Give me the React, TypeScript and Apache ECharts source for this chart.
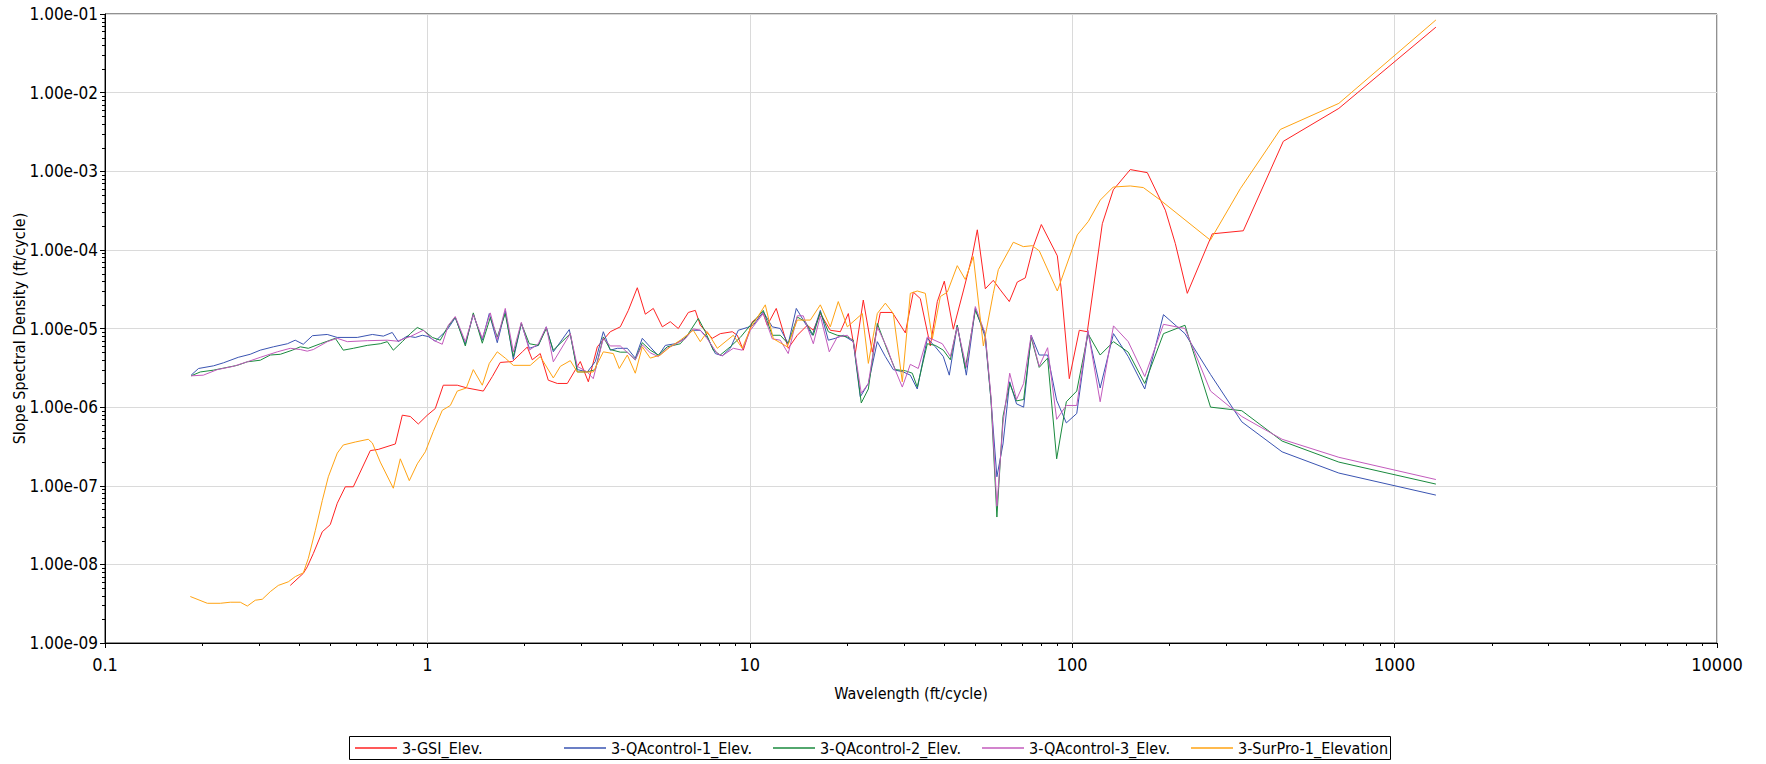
import React, { useEffect, useRef } from "react";
import * as echarts from "echarts";

// ---------- data (wavelength ft/cycle, slope spectral density) ----------
const seriesNames = [
  "3-GSI_Elev.",
  "3-QAcontrol-1_Elev.",
  "3-QAcontrol-2_Elev.",
  "3-QAcontrol-3_Elev.",
  "3-SurPro-1_Elevation",
];

const gsiElev: number[][] = [
  [0.3756, 5.4e-9], [0.4123, 7.7e-9], [0.424, 9.3e-9], [0.4426, 1.37e-8], [0.4721, 2.6e-8], [0.4996, 3.2e-8],
  [0.5254, 6.0e-8], [0.5564, 9.7e-8], [0.5891, 9.7e-8], [0.6651, 2.8e-7], [0.7041, 2.9e-7], [0.7954, 3.4e-7],
  [0.8358, 7.9e-7], [0.8851, 7.6e-7], [0.9371, 6.1e-7], [0.9993, 7.9e-7], [1.058, 9.6e-7], [1.12, 1.9e-6],
  [1.238, 1.9e-6], [1.33, 1.75e-6], [1.491, 1.6e-6], [1.59, 2.45e-6], [1.683, 3.7e-6], [1.834, 3.8e-6],
  [1.97, 5.05e-6], [2.041, 5.8e-6], [2.115, 4.0e-6], [2.239, 4.8e-6], [2.371, 2.2e-6], [2.529, 2.0e-6],
  [2.716, 2.0e-6], [2.98, 3.8e-6], [3.156, 2.1e-6], [3.365, 5.85e-6], [3.692, 9.1e-6], [3.966, 1.05e-5],
  [4.2, 1.7e-5], [4.478, 3.3e-5], [4.742, 1.52e-5], [5.02, 1.8e-5], [5.354, 1.05e-5], [5.667, 1.22e-5],
  [6.001, 1.0e-5], [6.447, 1.6e-5], [6.776, 1.7e-5], [7.022, 1.1e-5], [7.648, 7.5e-6], [8.099, 8.6e-6],
  [8.826, 9.1e-6], [9.147, 8.2e-6], [9.546, 5.3e-6], [10.18, 1.22e-5], [11.01, 1.55e-5], [11.33, 1.1e-5],
  [12.08, 1.8e-5], [13.16, 5.6e-6], [14.04, 8.2e-6], [15.08, 1.1e-5], [15.74, 9.5e-6], [16.55, 1.55e-5],
  [17.77, 9.5e-6], [19.09, 9.1e-6], [20.21, 1.55e-5], [21.24, 4.8e-6], [22.49, 2.3e-5], [23.99, 5.0e-6],
  [25.4, 1.6e-5], [27.67, 1.6e-5], [30.37, 8.8e-6], [32.15, 2.9e-5], [33.8, 2.4e-5], [36.3, 6.0e-6],
  [38.16, 2.2e-5], [40.12, 4.0e-5], [42.78, 9.8e-6], [45.95, 3.0e-5], [48.98, 8.4e-5], [50.78, 1.8e-4],
  [53.77, 3.2e-5], [56.92, 4.1e-5], [59.84, 3.1e-5], [63.82, 2.2e-5], [67.56, 3.9e-5], [71.53, 4.4e-5],
  [75.74, 1.1e-4], [80.22, 2.1e-4], [89.92, 8.4e-5], [92.52, 3.1e-5], [97.95, 2.3e-6], [105.2, 9.5e-6],
  [111.4, 9.1e-6], [124.0, 2.15e-4], [134.1, 5.8e-4], [151.4, 1.05e-3], [171.0, 9.6e-4], [194.5, 3.2e-4],
  [208.9, 1.2e-4], [227.5, 2.8e-5], [272.0, 1.6e-4], [339.4, 1.75e-4], [451.6, 2.4e-3], [671.5, 6.3e-3],
  [1343, 6.8e-2],
];

const qa1Elev: number[][] = [
  [0.185, 2.55e-6], [0.195, 3.1e-6], [0.217, 3.35e-6], [0.233, 3.66e-6], [0.259, 4.3e-6], [0.282, 4.7e-6],
  [0.303, 5.3e-6], [0.333, 5.85e-6], [0.368, 6.4e-6], [0.389, 7.1e-6], [0.412, 6.3e-6], [0.44, 8.1e-6],
  [0.489, 8.4e-6], [0.525, 7.7e-6], [0.606, 7.7e-6], [0.675, 8.4e-6], [0.73, 8.0e-6], [0.778, 8.9e-6],
  [0.812, 6.8e-6], [0.866, 8.0e-6], [0.917, 7.7e-6], [0.964, 8.2e-6], [1.006, 7.9e-6], [1.058, 6.9e-6],
  [1.153, 9.7e-6], [1.22, 1.37e-5], [1.311, 6.3e-6], [1.388, 1.51e-5], [1.48, 7.1e-6], [1.556, 1.55e-5],
  [1.647, 6.6e-6], [1.744, 1.68e-5], [1.847, 4.05e-6], [1.956, 1.16e-5], [2.071, 5.6e-6], [2.208, 6.1e-6],
  [2.338, 1.05e-5], [2.458, 5.05e-6], [2.755, 9.7e-6], [2.917, 3.0e-6], [3.133, 2.8e-6], [3.318, 3.8e-6],
  [3.513, 9.1e-6], [3.692, 5.3e-6], [3.882, 5.6e-6], [4.169, 5.6e-6], [4.414, 4.2e-6], [4.64, 7.5e-6],
  [4.913, 5.8e-6], [5.202, 4.5e-6], [5.47, 6.1e-6], [5.87, 6.4e-6], [6.22, 7.3e-6], [6.631, 9.5e-6],
  [7.022, 9.5e-6], [7.382, 7.7e-6], [7.816, 4.8e-6], [8.216, 4.5e-6], [8.7, 5.6e-6], [9.211, 9.5e-6],
  [9.822, 1.03e-5], [10.25, 1.1e-5], [11.01, 1.63e-5], [11.74, 1.05e-5], [12.43, 1.0e-5], [13.16, 6.4e-6],
  [13.94, 1.8e-5], [14.65, 1.28e-5], [15.63, 8.2e-6], [16.55, 1.7e-5], [17.52, 7.1e-6], [18.42, 7.5e-6],
  [19.5, 8.2e-6], [20.94, 6.8e-6], [22.01, 1.35e-6], [23.32, 2.0e-6], [24.86, 6.8e-6], [26.33, 4.4e-6],
  [27.87, 3.0e-6], [29.94, 2.8e-6], [31.47, 2.55e-6], [33.07, 1.7e-6], [35.53, 7.5e-6], [37.62, 5.85e-6],
  [39.83, 4.4e-6], [41.57, 2.55e-6], [44.01, 1.1e-5], [46.95, 2.55e-6], [50.06, 1.8e-5], [53.7, 7.8e-6],
  [56.0, 1.22e-6], [58.4, 1.3e-7], [61.0, 3.4e-7], [64.0, 2.1e-6], [67.2, 1.1e-6], [70.7, 1.0e-6],
  [74.6, 8.2e-6], [79.0, 4.6e-6], [83.9, 4.6e-6], [89.5, 1.22e-6], [95.9, 6.3e-7], [103.3, 8.3e-7],
  [111.9, 9.1e-6], [122.1, 1.75e-6], [134.3, 8.6e-6], [149.2, 4.4e-6], [167.9, 1.7e-6], [191.9, 1.5e-5],
  [223.8, 8.6e-6], [268.6, 2.6e-6], [335.8, 6.5e-7], [447.7, 2.7e-7], [671.5, 1.45e-7], [1343, 7.6e-8],
];

const qa2Elev: number[][] = [
  [0.185, 2.5e-6], [0.1975, 2.8e-6], [0.2168, 2.95e-6], [0.2573, 3.4e-6], [0.2763, 3.77e-6], [0.3032, 3.95e-6],
  [0.3256, 4.6e-6], [0.3498, 4.7e-6], [0.3811, 5.3e-6], [0.4035, 5.85e-6], [0.4272, 5.6e-6], [0.4655, 6.4e-6],
  [0.518, 7.5e-6], [0.5484, 5.3e-6], [0.5891, 5.6e-6], [0.6508, 6.1e-6], [0.7142, 6.4e-6], [0.7511, 6.8e-6],
  [0.7839, 5.3e-6], [0.8358, 6.8e-6], [0.8851, 8.6e-6], [0.9304, 1.03e-5], [0.9712, 9.5e-6], [1.036, 7.7e-6],
  [1.096, 7.1e-6], [1.153, 1.03e-5], [1.22, 1.4e-5], [1.311, 6.0e-6], [1.388, 1.58e-5], [1.48, 6.5e-6],
  [1.567, 1.38e-5], [1.647, 7.8e-6], [1.744, 1.55e-5], [1.847, 4.4e-6], [1.956, 1.16e-5], [2.071, 6.4e-6],
  [2.208, 6.1e-6], [2.338, 1.0e-5], [2.458, 5.3e-6], [2.775, 8.6e-6], [2.917, 2.8e-6], [3.133, 2.8e-6],
  [3.318, 3.0e-6], [3.513, 7.8e-6], [3.692, 5.4e-6], [3.966, 5.0e-6], [4.169, 5.0e-6], [4.414, 4.0e-6],
  [4.64, 6.6e-6], [4.913, 5.3e-6], [5.202, 4.6e-6], [5.548, 5.85e-6], [6.088, 6.4e-6], [6.401, 8.2e-6],
  [6.922, 1.34e-5], [7.278, 9.1e-6], [7.704, 5.3e-6], [8.099, 4.6e-6], [8.7, 5.85e-6], [9.344, 7.7e-6],
  [10.04, 1.1e-5], [11.01, 1.7e-5], [11.74, 8.2e-6], [12.43, 8.2e-6], [13.16, 6.4e-6], [14.04, 1.4e-5],
  [14.86, 1.22e-5], [15.74, 8.2e-6], [16.55, 1.63e-5], [17.52, 9.1e-6], [18.68, 8.2e-6], [20.07, 7.8e-6],
  [20.94, 7.1e-6], [22.17, 1.13e-6], [23.32, 1.7e-6], [24.86, 1.16e-5], [26.7, 5.3e-6], [28.27, 3.0e-6],
  [30.37, 2.9e-6], [31.92, 2.7e-6], [33.07, 1.8e-6], [35.53, 6.4e-6], [37.62, 6.1e-6], [39.83, 5.3e-6],
  [41.88, 4.0e-6], [44.01, 1.1e-5], [46.6, 3.1e-6], [50.06, 1.7e-5], [53.7, 8.6e-6], [56.0, 1.22e-6],
  [58.4, 4.0e-8], [61.0, 7.6e-7], [64.0, 2.0e-6], [67.2, 1.2e-6], [70.7, 1.25e-6], [74.6, 7.7e-6],
  [79.0, 3.2e-6], [83.9, 4.2e-6], [89.5, 2.2e-7], [95.9, 1.17e-6], [103.3, 1.6e-6], [111.9, 8.6e-6],
  [122.1, 4.6e-6], [134.3, 6.8e-6], [149.2, 5.0e-6], [167.9, 2.0e-6], [191.9, 8.6e-6], [223.8, 1.1e-5],
  [268.6, 1.0e-6], [335.8, 9.0e-7], [447.7, 3.7e-7], [671.5, 2.0e-7], [1343, 1.05e-7],
];

const qa3Elev: number[][] = [
  [0.185, 2.5e-6], [0.2018, 2.55e-6], [0.223, 3.0e-6], [0.25, 3.3e-6], [0.2763, 3.77e-6], [0.3032, 4.3e-6],
  [0.3423, 5.05e-6], [0.3756, 5.6e-6], [0.4035, 5.4e-6], [0.424, 5.15e-6], [0.4426, 5.4e-6], [0.4892, 6.8e-6],
  [0.5254, 7.5e-6], [0.5645, 6.8e-6], [0.6508, 7.0e-6], [0.7511, 7.1e-6], [0.8065, 6.9e-6], [0.8851, 7.9e-6],
  [0.9712, 9.5e-6], [1.043, 7.1e-6], [1.112, 6.3e-6], [1.161, 1.1e-5], [1.22, 1.42e-5], [1.311, 6.8e-6],
  [1.388, 1.5e-5], [1.48, 7.5e-6], [1.567, 1.58e-5], [1.647, 7.2e-6], [1.744, 1.8e-5], [1.847, 5.05e-6],
  [1.956, 1.2e-5], [2.071, 5.3e-6], [2.208, 6.4e-6], [2.338, 1.05e-5], [2.458, 3.77e-6], [2.775, 8.6e-6],
  [2.917, 3.3e-6], [3.133, 2.8e-6], [3.269, 2.3e-6], [3.513, 7.5e-6], [3.692, 6.0e-6], [3.966, 6.0e-6],
  [4.414, 4.0e-6], [4.64, 6.2e-6], [4.913, 4.9e-6], [5.202, 4.4e-6], [5.548, 5.6e-6], [5.87, 6.3e-6],
  [6.31, 7.4e-6], [6.678, 9.9e-6], [7.022, 9.5e-6], [7.382, 7.4e-6], [7.929, 4.8e-6], [8.216, 4.5e-6],
  [8.889, 5.6e-6], [9.478, 5.3e-6], [10.04, 9.5e-6], [11.01, 1.55e-5], [11.74, 7.4e-6], [12.43, 7.1e-6],
  [13.16, 4.8e-6], [14.04, 1.45e-5], [14.65, 1.45e-5], [15.74, 6.4e-6], [16.55, 1.45e-5], [17.64, 5.05e-6],
  [18.68, 7.8e-6], [20.07, 8.2e-6], [20.94, 6.8e-6], [22.17, 1.5e-6], [23.32, 2.0e-6], [24.86, 1.05e-5],
  [26.7, 5.6e-6], [27.87, 3.4e-6], [29.72, 1.8e-6], [31.47, 3.5e-6], [33.31, 3.1e-6], [35.53, 7.8e-6],
  [39.55, 6.4e-6], [41.88, 4.4e-6], [44.01, 1.05e-5], [46.95, 3.2e-6], [50.06, 1.9e-5], [53.7, 8.6e-6],
  [56.0, 1.35e-6], [58.4, 5.5e-8], [61.0, 6.3e-7], [64.0, 2.7e-6], [67.2, 1.25e-6], [70.7, 2.0e-6],
  [74.6, 8.2e-6], [79.0, 3.3e-6], [83.9, 5.7e-6], [89.5, 7.0e-7], [95.9, 1.05e-6], [103.3, 1.05e-6],
  [111.9, 9.5e-6], [122.1, 1.17e-6], [134.3, 1.08e-5], [149.2, 6.8e-6], [167.9, 2.45e-6], [191.9, 1.13e-5],
  [223.8, 1.0e-5], [268.6, 1.6e-6], [335.8, 7.6e-7], [447.7, 3.9e-7], [671.5, 2.3e-7], [1343, 1.2e-7],
];

const surProElev: number[][] = [
  [0.1839, 3.9e-9], [0.2077, 3.2e-9], [0.2279, 3.2e-9], [0.2446, 3.3e-9], [0.2629, 3.3e-9], [0.2763, 2.95e-9],
  [0.2925, 3.5e-9], [0.3075, 3.6e-9], [0.3256, 4.5e-9], [0.3448, 5.4e-9], [0.3703, 6.0e-9], [0.3894, 7.0e-9],
  [0.4123, 7.8e-9], [0.4272, 1.19e-8], [0.4491, 2.7e-8], [0.4721, 6.5e-8], [0.4928, 1.3e-7], [0.5254, 2.6e-7],
  [0.5484, 3.3e-7], [0.5975, 3.6e-7], [0.6555, 3.9e-7], [0.6749, 3.5e-7], [0.7142, 2.0e-7], [0.7839, 9.3e-8],
  [0.824, 2.2e-7], [0.8788, 1.16e-7], [0.9304, 1.9e-7], [0.9851, 2.7e-7], [1.043, 4.9e-7], [1.112, 9.1e-7],
  [1.178, 1.05e-6], [1.238, 1.6e-6], [1.32, 1.75e-6], [1.388, 3.0e-6], [1.48, 1.9e-6], [1.556, 3.6e-6],
  [1.647, 5.05e-6], [1.744, 4.2e-6], [1.847, 3.4e-6], [2.085, 3.4e-6], [2.239, 4.4e-6], [2.458, 2.35e-6],
  [2.584, 3.3e-6], [2.775, 3.9e-6], [2.917, 2.8e-6], [3.269, 2.8e-6], [3.513, 5.05e-6], [3.772, 4.8e-6],
  [3.937, 3.1e-6], [4.169, 4.6e-6], [4.414, 2.7e-6], [4.64, 5.85e-6], [4.913, 4.2e-6], [5.277, 4.6e-6],
  [5.667, 5.85e-6], [6.088, 7.1e-6], [6.678, 9.5e-6], [7.022, 6.8e-6], [7.382, 9.1e-6], [7.929, 5.6e-6],
  [8.889, 8.2e-6], [9.478, 5.6e-6], [10.04, 1.0e-5], [11.17, 2.0e-5], [11.83, 7.4e-6], [13.07, 5.85e-6],
  [14.04, 1.28e-5], [15.41, 1.28e-5], [16.55, 2.0e-5], [17.77, 1.05e-5], [18.81, 2.2e-5], [20.07, 1.05e-5],
  [22.34, 1.55e-5], [23.32, 3.6e-6], [24.86, 1.55e-5], [26.33, 2.1e-5], [27.87, 1.55e-5], [29.72, 2.1e-6],
  [31.47, 2.8e-5], [33.07, 3.0e-5], [35.03, 2.8e-5], [36.83, 7.4e-6], [38.99, 2.55e-5], [40.99, 2.9e-5],
  [44.01, 6.3e-5], [46.6, 4.2e-5], [49.35, 8.2e-5], [53.02, 6.0e-6], [56.92, 2.8e-5], [59.0, 5.6e-5],
  [65.67, 1.25e-4], [70.53, 1.1e-4], [75.2, 1.13e-4], [79.07, 9.7e-5], [89.92, 3.0e-5], [103.7, 1.55e-4],
  [112.2, 2.3e-4], [122.2, 4.3e-4], [134.1, 6.3e-4], [151.4, 6.5e-4], [166.2, 6.2e-4], [187.6, 4.3e-4],
  [268.2, 1.33e-4], [332.2, 6.0e-4], [442.1, 3.4e-3], [671.5, 7.3e-3], [1343, 8.4e-2],
];

// axis ranges and log minor tick multipliers
const xDecades = [0.1, 1, 10, 100, 1000];
const yDecades = [1e-9, 1e-8, 1e-7, 1e-6, 1e-5, 1e-4, 1e-3, 1e-2];
const minorMultipliers = [2, 3, 4, 5, 6, 7, 8, 9];

const seriesData = [gsiElev, qa1Elev, qa2Elev, qa3Elev, surProElev];
const seriesColors = ["#ff2222", "#3a54b2", "#1a8a3e", "#c35bbd", "#ffa313"];

const FONT = "'DejaVu Sans Condensed', 'DejaVu Sans', sans-serif";

// legend layout (one legend box with equally spaced entries)
const LEGEND_BOX = { x: 349.5, y: 736.5, w: 1041, h: 23 };
const LEGEND_FIRST = 355;
const LEGEND_STEP = 209;

function fmtX(v: number) {
  const e = Math.round(Math.log10(v));
  return e < 0 ? Math.pow(10, e).toFixed(-e) : String(Math.round(Math.pow(10, e)));
}
function fmtY(v: number) {
  const e = Math.round(Math.log10(v));
  return "1.00e" + (e < 0 ? "-" : "+") + String(Math.abs(e)).padStart(2, "0");
}

export default function App() {
  const ref = useRef<HTMLDivElement>(null);
  useEffect(() => {
    document.body.style.margin = "0";
    const chart = echarts.init(ref.current!, null, { renderer: "svg" });
    chart.setOption({
      animation: false,
      backgroundColor: "#ffffff",
      textStyle: { fontFamily: FONT },
      grid: {
        left: 105, right: 49, top: 14, bottom: 121,
        containLabel: false,
        outerBoundsMode: "none",
        show: true, borderColor: "#222", borderWidth: 1, backgroundColor: "transparent",
      },
      xAxis: {
        type: "log", logBase: 10, min: 0.1, max: 10000, splitNumber: 5,
        name: "Wavelength (ft/cycle)", nameLocation: "middle", nameGap: 42,
        nameMoveOverlap: false,
        nameTextStyle: { fontSize: 16, color: "#000", fontFamily: FONT },
        axisLine: { show: true, lineStyle: { color: "#000", width: 1 } },
        axisTick: { show: true, length: 5, lineStyle: { color: "#000" } },
        axisLabel: { fontSize: 18, color: "#000", margin: 12, fontFamily: FONT, formatter: fmtX },
        splitLine: { show: true, lineStyle: { color: "#dadada", width: 1 } },
      },
      yAxis: {
        type: "log", logBase: 10, min: 1e-9, max: 0.1, splitNumber: 8,
        name: "Slope Spectral Density (ft/cycle)", nameLocation: "middle", nameGap: 78,
        nameMoveOverlap: false,
        nameTextStyle: { fontSize: 16, color: "#000", fontFamily: FONT },
        axisLine: { show: true, lineStyle: { color: "#000", width: 1 } },
        axisTick: { show: true, length: 5, lineStyle: { color: "#000" } },
        axisLabel: { fontSize: 17, color: "#000", margin: 7, fontFamily: FONT, formatter: fmtY },
        splitLine: { show: true, lineStyle: { color: "#dadada", width: 1 } },
      },
      legend: seriesNames.map((name, i) => ({
        data: [name],
        left: LEGEND_FIRST + i * LEGEND_STEP,
        top: 740,
        orient: "horizontal",
        icon: "rect",
        itemWidth: 42, itemHeight: 1.5,
        padding: 0,
        selectedMode: false,
        textStyle: { fontSize: 16, color: "#000", fontFamily: FONT },
      })),
      series: seriesNames.map((name, i) => ({
        name,
        type: "line",
        data: seriesData[i],
        symbol: "none",
        showSymbol: false,
        lineStyle: { color: seriesColors[i], width: 1 },
        itemStyle: { color: seriesColors[i] },
        emphasis: { disabled: true },
      })),
    });

    // log-spaced minor ticks, positioned through the chart's own scales
    const els: any[] = [];
    const axisY = chart.convertToPixel({ gridIndex: 0 }, [1, 1e-9])[1];
    const axisX = chart.convertToPixel({ gridIndex: 0 }, [0.1, 1e-5])[0];
    for (const d of xDecades) {
      for (const m of minorMultipliers) {
        const px = Math.round(chart.convertToPixel({ gridIndex: 0 }, [d * m, 1e-9])[0]) + 0.5;
        els.push({ type: "line", silent: true, shape: { x1: px, y1: axisY, x2: px, y2: axisY + 3 }, style: { stroke: "#000", lineWidth: 1 } });
      }
    }
    for (const d of yDecades) {
      for (const m of minorMultipliers) {
        const py = Math.round(chart.convertToPixel({ gridIndex: 0 }, [0.1, d * m])[1]) + 0.5;
        els.push({ type: "line", silent: true, shape: { x1: axisX - 3, y1: py, x2: axisX, y2: py }, style: { stroke: "#000", lineWidth: 1 } });
      }
    }
    // legend frame
    els.push({
      type: "rect", silent: true,
      shape: { x: LEGEND_BOX.x, y: LEGEND_BOX.y, width: LEGEND_BOX.w, height: LEGEND_BOX.h },
      style: { fill: "none", stroke: "#000", lineWidth: 1 },
    });
    chart.setOption({ graphic: els });

    return () => chart.dispose();
  }, []);
  return <div ref={ref} style={{ width: 1766, height: 764, position: "absolute", left: 0, top: 0 }} />;
}
